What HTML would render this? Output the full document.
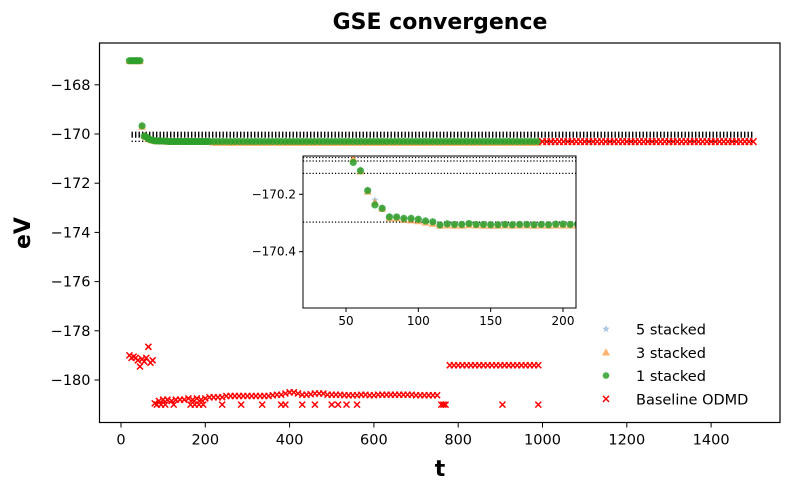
<!DOCTYPE html>
<html><head><meta charset="utf-8"><style>
body{margin:0;background:#fff;}
svg{display:block;font-family:"DejaVu Sans","Liberation Sans",sans-serif;}
</style></head><body>
<svg id="c" width="790" height="490" viewBox="0 0 790 490" xmlns="http://www.w3.org/2000/svg"></svg>
<script>
const xTicks=[0,200,400,600,800,1000,1200,1400];
const yTicks=[-168,-170,-172,-174,-176,-178,-180];
const insetXTicks=[50,100,150,200];
const insetYTicks=[-170.2,-170.4];
const refLines=[-169.93,-169.965,-170.0,-170.035,-170.072,-170.084,-170.127,-170.297];
// stacked series, t = 20..210 step 5
const earlyT=[20,25,30,35,40,45,50,55,60,65,70,75,80,85,90,95,100,105,110,115,120,125,130,135,140,145,150,155,160,165,170,175,180,185,190,195,200,205,210];
const oneStacked=[-167.02,-167.02,-167.02,-167.02,-167.02,-167.02,-169.67,-170.089,-170.118,-170.187,-170.237,-170.249,-170.279,-170.279,-170.284,-170.284,-170.287,-170.293,-170.296,-170.307,-170.303,-170.305,-170.305,-170.302,-170.305,-170.305,-170.306,-170.306,-170.305,-170.306,-170.305,-170.305,-170.306,-170.305,-170.306,-170.304,-170.304,-170.305,-170.304];
const threeStacked=[-167.03,-167.03,-167.03,-167.03,-167.03,-167.03,-169.70,-170.075,-170.12,-170.19,-170.228,-170.25,-170.283,-170.283,-170.288,-170.29,-170.293,-170.298,-170.302,-170.309,-170.308,-170.309,-170.309,-170.307,-170.308,-170.309,-170.309,-170.309,-170.308,-170.309,-170.308,-170.308,-170.309,-170.308,-170.309,-170.308,-170.308,-170.308,-170.308];
const fiveStacked=[-167.02,-167.02,-167.02,-167.02,-167.02,-167.02,-169.66,-170.085,-170.115,-170.185,-170.22,-170.245,-170.275,-170.28,-170.284,-170.285,-170.287,-170.293,-170.296,-170.306,-170.303,-170.305,-170.305,-170.302,-170.305,-170.305,-170.306,-170.306,-170.305,-170.306,-170.305,-170.305,-170.306,-170.305,-170.306,-170.304,-170.304,-170.305,-170.304];
// plateau t = 220..990 step 10
const plateauT=[220,230,240,250,260,270,280,290,300,310,320,330,340,350,360,370,380,390,400,410,420,430,440,450,460,470,480,490,500,510,520,530,540,550,560,570,580,590,600,610,620,630,640,650,660,670,680,690,700,710,720,730,740,750,760,770,780,790,800,810,820,830,840,850,860,870,880,890,900,910,920,930,940,950,960,970,980,990];
const plateauV=[-170.305,-170.305,-170.304,-170.305,-170.305,-170.305,-170.304,-170.305,-170.305,-170.305,-170.305,-170.305,-170.305,-170.305,-170.304,-170.305,-170.305,-170.305,-170.305,-170.305,-170.305,-170.305,-170.305,-170.305,-170.305,-170.305,-170.305,-170.305,-170.305,-170.305,-170.305,-170.305,-170.305,-170.305,-170.305,-170.305,-170.305,-170.305,-170.305,-170.305,-170.305,-170.305,-170.305,-170.305,-170.305,-170.305,-170.305,-170.305,-170.305,-170.305,-170.305,-170.305,-170.305,-170.305,-170.305,-170.305,-170.305,-170.305,-170.305,-170.305,-170.305,-170.305,-170.305,-170.305,-170.305,-170.305,-170.305,-170.305,-170.305,-170.305,-170.305,-170.305,-170.305,-170.305,-170.305,-170.305,-170.305,-170.305];
// baseline ODMD
const baseT=[20,25,30,35,40,45,50,55,60,65,70,75,80,90,100,110,120,130,140,150,160,170,180,190,200,210,220,230,240,250,260,270,280,290,300,310,320,330,340,350,360,370,380,390,400,410,420,430,440,450,460,470,480,490,500,510,520,530,540,550,560,570,580,590,600,610,620,630,640,650,660,670,680,690,700,710,720,730,740,750,760,770,780,790,800,810,820,830,840,850,860,870,880,890,900,910,920,930,940,950,960,970,980,990];
const baseV=[-179.0,-179.1,-179.05,-179.1,-179.2,-179.45,-179.15,-179.25,-179.1,-178.65,-179.3,-179.2,-180.95,-180.85,-180.8,-180.8,-180.85,-180.8,-180.8,-180.8,-180.75,-180.8,-180.75,-180.8,-180.75,-180.7,-180.7,-180.7,-180.7,-180.65,-180.65,-180.65,-180.65,-180.65,-180.65,-180.65,-180.65,-180.65,-180.65,-180.65,-180.62,-180.6,-180.6,-180.55,-180.5,-180.5,-180.55,-180.6,-180.6,-180.58,-180.55,-180.55,-180.55,-180.6,-180.6,-180.6,-180.6,-180.62,-180.62,-180.62,-180.62,-180.6,-180.6,-180.62,-180.62,-180.6,-180.6,-180.6,-180.6,-180.6,-180.6,-180.6,-180.6,-180.6,-180.62,-180.62,-180.62,-180.62,-180.62,-180.62,-181.0,-181.0,-179.4,-179.4,-179.4,-179.4,-179.4,-179.4,-179.4,-179.4,-179.4,-179.4,-179.4,-179.4,-179.4,-179.4,-179.4,-179.4,-179.4,-179.4,-179.4,-179.4,-179.4,-179.4];
const baseOutT=[85,95,105,125,165,175,185,195,240,285,335,380,390,430,460,500,515,535,560,765,905,990];
const baseOutV=[-181,-181,-181,-181,-181,-181,-181,-181,-181,-181,-181,-181,-181,-181,-181,-181,-181,-181,-181,-181,-181,-181];
const tailT=[1000,1010,1020,1030,1040,1050,1060,1070,1080,1090,1100,1110,1120,1130,1140,1150,1160,1170,1180,1190,1200,1210,1220,1230,1240,1250,1260,1270,1280,1290,1300,1310,1320,1330,1340,1350,1360,1370,1380,1390,1400,1410,1420,1430,1440,1450,1460,1470,1480,1490,1500];
const tailV=[-170.31,-170.31,-170.31,-170.31,-170.31,-170.31,-170.31,-170.31,-170.31,-170.31,-170.31,-170.31,-170.31,-170.31,-170.31,-170.31,-170.31,-170.31,-170.31,-170.31,-170.31,-170.31,-170.31,-170.31,-170.31,-170.31,-170.31,-170.31,-170.31,-170.31,-170.31,-170.31,-170.31,-170.31,-170.31,-170.31,-170.31,-170.31,-170.31,-170.31,-170.31,-170.31,-170.31,-170.31,-170.31,-170.31,-170.31,-170.31,-170.31,-170.31,-170.31];

const NS='http://www.w3.org/2000/svg';
const svg=document.getElementById('c');
function el(tag,attrs,parent){const e=document.createElementNS(NS,tag);for(const k in attrs)e.setAttribute(k,attrs[k]);(parent||svg).appendChild(e);return e;}
const L=99.5,R=780,T=43,B=422.5;
const X=t=>121+t*0.4215;
const Y=v=>134+(-170-v)*24.6;
const iL=303,iR=576,iT=156,iB=308;
const IX=t=>346+(t-50)*1.4467;
const IY=v=>194.3+(-170.2-v)*287;

function circle(g,x,y,r,fill,name){const c=el('circle',{cx:x,cy:y,r:r,fill:fill},g);}
function tri(g,x,y,s,fill,name){const p=el('polygon',{points:`${x},${y-s} ${x-s},${y+s*0.8} ${x+s},${y+s*0.8}`,fill:fill},g);}
function star(g,x,y,s,fill,name){let pts=[];for(let i=0;i<10;i++){const r=i%2?s*0.45:s;const a=-Math.PI/2+i*Math.PI/5;pts.push((x+r*Math.cos(a)).toFixed(2)+','+(y+r*Math.sin(a)).toFixed(2));}const p=el('polygon',{points:pts.join(' '),fill:fill},g);}
function cross(g,x,y,s,name){const p=el('path',{d:`M${x-s},${y-s}L${x+s},${y+s}M${x-s},${y+s}L${x+s},${y-s}`,stroke:'#ff0000','stroke-width':1.5},g);}

const title=el('text',{x:440,y:29,'text-anchor':'middle','font-size':22,'font-weight':'bold',fill:'#000'});title.textContent='GSE convergence';



const plot=el('g',{});


refLines.forEach(v=>{const ln=el('line',{x1:X(25),x2:X(1500),y1:Y(v),y2:Y(v),stroke:'#000','stroke-width':1.3,'stroke-dasharray':'1.3 2.2'},plot);});
earlyT.forEach((t,i)=>star(plot,X(t),Y(fiveStacked[i]),4,'rgba(140,180,215,0.6)','point-5-stacked'));
earlyT.forEach((t,i)=>tri(plot,X(t),Y(threeStacked[i]),4,'rgba(255,127,14,0.55)','point-3-stacked'));
plateauT.forEach((t,i)=>tri(plot,X(t),Y(plateauV[i])+1,4,'rgba(255,127,14,0.55)','point-3-stacked'));
earlyT.forEach((t,i)=>circle(plot,X(t),Y(oneStacked[i]),3.6,'rgba(44,160,44,0.85)','point-1-stacked'));
plateauT.forEach((t,i)=>circle(plot,X(t),Y(plateauV[i]),3.6,'rgba(44,160,44,0.85)','point-1-stacked'));
baseT.forEach((t,i)=>cross(plot,X(t),Y(baseV[i]),3,'point-baseline'));
baseOutT.forEach((t,i)=>cross(plot,X(t),Y(baseOutV[i]),3,'point-baseline-outlier'));
tailT.forEach((t,i)=>cross(plot,X(t),Y(tailV[i]),3.3,'point-baseline'));

const fr=el('rect',{x:L,y:T,width:R-L,height:B-T,fill:'none',stroke:'#000','stroke-width':1.2});


xTicks.forEach(t=>{const x=X(t);el('line',{x1:x,x2:x,y1:B,y2:B+5,stroke:'#000'});const tx=el('text',{x:x,y:B+22,'text-anchor':'middle','font-size':14.5,fill:'#000'});tx.textContent=t;});
yTicks.forEach(v=>{const y=Y(v);el('line',{x1:L-5,x2:L,y1:y,y2:y,stroke:'#000'});const tx=el('text',{x:L-9,y:y+5,'text-anchor':'end','font-size':14.5,fill:'#000'});tx.textContent='\u2212'+Math.abs(v);});
const xl=el('text',{x:440,y:476,'text-anchor':'middle','font-size':22,'font-weight':'bold',fill:'#000'});xl.textContent='t';


const yl=el('text',{x:30,y:233,'text-anchor':'middle','font-size':22,'font-weight':'bold',fill:'#000',transform:'rotate(-90 30 233)'});yl.textContent='eV';



const ins=el('g',{});


el('rect',{x:iL,y:iT,width:iR-iL,height:iB-iT,fill:'#fff'},ins);
el('clipPath',{id:'ic'},ins);
el('rect',{x:iL,y:iT,width:iR-iL,height:iB-iT},document.getElementById('ic'));
const ig=el('g',{'clip-path':'url(#ic)'},ins);
refLines.forEach(v=>{const ln=el('line',{x1:iL,x2:iR,y1:IY(v),y2:IY(v),stroke:'#000','stroke-width':1.2,'stroke-dasharray':'1.2 2'},ig);});
earlyT.forEach((t,i)=>star(ig,IX(t),IY(fiveStacked[i]),4,'rgba(140,180,215,0.6)','inset-point-5-stacked'));
earlyT.forEach((t,i)=>tri(ig,IX(t),IY(threeStacked[i]),4,'rgba(255,127,14,0.6)','inset-point-3-stacked'));
earlyT.forEach((t,i)=>circle(ig,IX(t),IY(oneStacked[i]),3.6,'rgba(44,160,44,0.85)','inset-point-1-stacked'));
el('rect',{x:iL,y:iT,width:iR-iL,height:iB-iT,fill:'none',stroke:'#000','stroke-width':1},ins);
insetXTicks.forEach(t=>{const x=IX(t);el('line',{x1:x,x2:x,y1:iB,y2:iB+4,stroke:'#000'},ins);const tx=el('text',{x:x,y:iB+17,'text-anchor':'middle','font-size':12,fill:'#000'},ins);tx.textContent=t;});
insetYTicks.forEach(v=>{const y=IY(v);el('line',{x1:iL-4,x2:iL,y1:y,y2:y,stroke:'#000'},ins);const tx=el('text',{x:iL-7,y:y+4,'text-anchor':'end','font-size':12,fill:'#000'},ins);tx.textContent='\u2212'+Math.abs(v).toFixed(1);});

const lg=el('g',{});


const labels=['5 stacked','3 stacked','1 stacked','Baseline ODMD'];
labels.forEach((s,i)=>{const y=329+i*23.3;
 if(i===0)star(lg,606,y,4,'rgba(140,180,215,0.7)','legend-marker');
 if(i===1)tri(lg,606,y,4,'rgba(255,127,14,0.6)','legend-marker');
 if(i===2)circle(lg,606,y,3.3,'rgba(44,160,44,0.85)','legend-marker');
 if(i===3)cross(lg,606,y,3,'legend-marker');
 const tx=el('text',{x:636,y:y+5.5,'font-size':14.5,fill:'#000'},lg);tx.textContent=s;
 
 
});
</script>
</body></html>
